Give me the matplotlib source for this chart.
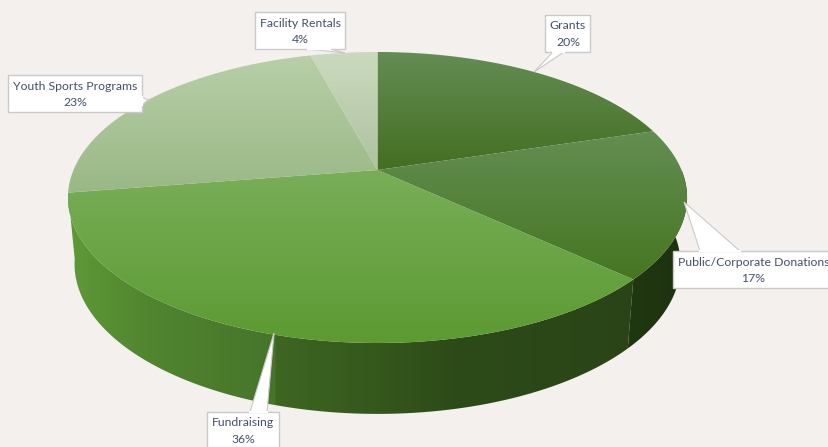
import matplotlib
matplotlib.use('Agg')
import matplotlib.pyplot as plt
import numpy as np
from matplotlib.colors import LinearSegmentedColormap
from matplotlib.patches import Polygon

# Data
categories = ['Grants', 'Public/Corporate Donations', 'Fundraising', 'Youth Sports Programs', 'Facility Rentals']
shares = [20.3, 16.6, 35.6, 23.3, 4.2]

# top face colours, (upper, lower)
top_colors = [('#648c55', '#436f20'), ('#648e54', '#467621'), ('#78ae58', '#5c9a32'),
              ('#b8cfa8', '#9ab886'), ('#cbdabf', '#aec2a0')]

bg = '#f4f0ed'
edge = '#c9c9c9'
text_color = '#44506a'

fig = plt.figure(figsize=(8.29, 4.47), dpi=100, facecolor=bg)
ax = fig.add_axes([0, 0, 1, 1])
ax.set_xlim(0, 829)
ax.set_ylim(447, 0)
ax.axis('off')


# tilted circle with some perspective, angle is clockwise from 12 o'clock
def rim(theta, y0=170, a=304, b=140.3, k=0.189, cx=377.5):
    x = np.sin(theta)
    y = np.cos(theta)
    return cx + a * x / (1 + k * y), y0 - b * y / (1 + k * y)


def lower_rim(theta):
    return rim(theta, y0=235.6, a=297.5, b=144.6)


def fill_gradient(pts, colors, horizontal=False):
    pts = np.array(pts)
    x0, x1 = pts[:, 0].min(), pts[:, 0].max()
    y0, y1 = pts[:, 1].min(), pts[:, 1].max()
    cmap = LinearSegmentedColormap.from_list('g', colors)
    if horizontal:
        grad = np.linspace(0, 1, 600).reshape(1, -1)
    else:
        grad = np.linspace(0, 1, 400).reshape(-1, 1)
    im = ax.imshow(grad, cmap=cmap, vmin=0, vmax=1, aspect='auto', extent=(x0, x1, y1, y0), zorder=2)
    clip = Polygon(pts, closed=True, transform=ax.transData, fc='none', ec='none')
    ax.add_patch(clip)
    im.set_clip_path(clip)


ends = np.cumsum(shares) / sum(shares) * 2 * np.pi
starts = np.r_[0, ends[:-1]]

# side wall: only the part facing the viewer
side_colors = {
    1: ['#203810', '#1c3210'],
    2: [(0, '#5e9937'), (0.14, '#518530'), (0.365, '#46752a'), (0.367, '#3e6622'),
        (0.58, '#33551c'), (0.68, '#2d4b19'), (1, '#2a4417')],
}
for i in side_colors:
    t = np.linspace(max(starts[i], np.pi * 0.5), min(ends[i], np.pi * 1.5), 200)
    xt, yt = rim(t)
    xb, yb = lower_rim(t)
    pts = np.r_[np.c_[xt, yt], np.c_[xb, yb][::-1]]
    fill_gradient(pts, side_colors[i], horizontal=True)

# top faces
for i in range(len(shares)):
    t = np.linspace(starts[i], ends[i], 200)
    xt, yt = rim(t)
    pts = np.r_[[[377.5, 170]], np.c_[xt, yt]]
    fill_gradient(pts, top_colors[i])

# callouts: box (left, top, right, bottom) and tail
labels = [
    (0, (545.5, 14.5, 590.5, 52), [(564, 52), (534, 72), (553, 52)]),
    (1, (673.5, 251, 835, 288), [(700, 251), (684, 202), (740, 251)]),
    (2, (207, 412, 279, 450), [(250, 412), (274, 333), (267, 412)]),
    (3, (8, 75, 142, 112), [(142, 97), (148, 100), (142, 105)]),
    (4, (255, 12, 345.5, 49), [(330, 49), (345, 53), (308, 49)]),
]
for i, (l, t, r, b), tail in labels:
    ax.add_patch(Polygon([(l, t), (r, t), (r, b), (l, b)], closed=True, fc='white', ec=edge, lw=1, zorder=3))
    ax.add_patch(Polygon(tail, closed=True, fc='white', ec=edge, lw=0.8, zorder=3))
    # hide the tail's base line
    ax.plot([tail[0][0], tail[2][0]], [tail[0][1], tail[2][1]], color='white', lw=1.6, zorder=4)
    ax.text((l + r) / 2 if r < 829 else 753.5, (t + b) / 2 + 1 if b < 447 else 431,
            f'{categories[i]}\n{shares[i]:.0f}%', ha='center', va='center', fontsize=8.8,
            family='Lato', color=text_color, linespacing=1.65, zorder=5)

fig.savefig('out.png', dpi=100, facecolor=bg)
